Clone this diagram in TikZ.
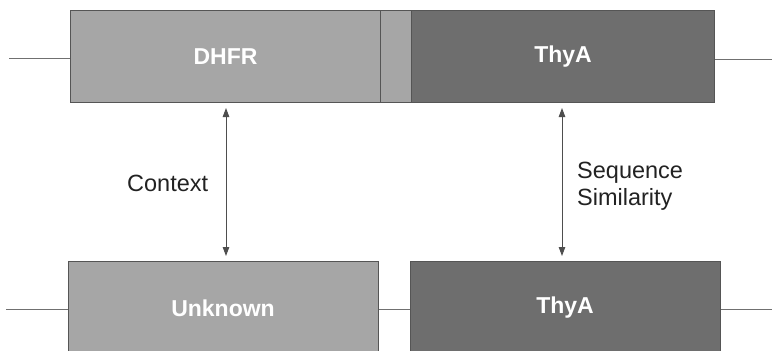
\documentclass[tikz,border=0pt]{standalone}
\usepackage{fontspec}
\setmainfont{Liberation Sans}
\usetikzlibrary{arrows.meta}
\definecolor{domlight}{HTML}{A6A6A6}
\definecolor{domdark}{HTML}{6E6E6E}
\definecolor{edgegrey}{HTML}{555555}
\definecolor{linkgrey}{HTML}{707070}
\definecolor{labelgrey}{HTML}{222222}
\tikzset{
  genebox/.style={draw=edgegrey, line width=1pt, inner sep=0pt, anchor=north west,
    font=\fontsize{23}{24}\selectfont\bfseries, text=white},
  lightdom/.style={genebox, fill=domlight},
  darkdom/.style={genebox, fill=domdark},
  genename/.style={font=\fontsize{23}{24}\selectfont\bfseries, text=white},
  chain/.style={draw=linkgrey, line width=1pt},
  relation/.style={draw=labelgrey!80, line width=0.9pt,
    {Triangle[length=9pt,width=6.5pt]}-{Triangle[length=9pt,width=6.5pt]}},
  tag/.style={text=labelgrey, font=\fontsize{23.5}{25}\selectfont, align=left, inner sep=0pt}
}
\begin{document}
\begin{tikzpicture}[x=1pt, y=-1pt]
  \useasboundingbox (0,0) rectangle (772,351);
  \fill[white] (0,0) rectangle (772,351);

  % upper gene pair: DHFR and ThyA joined by a short linker
  \node[lightdom, minimum width=310pt, minimum height=92pt] (dhfr) at (70,10) {DHFR};
  \node[lightdom, minimum width=31pt, minimum height=92pt] (linker) at (380,10) {};
  \node[darkdom, minimum width=303pt, minimum height=92pt] (thyaTop) at (411,10) {ThyA};

  % lower gene pair: unknown gene and ThyA
  \node[lightdom, minimum width=310pt, minimum height=96pt] (unknown) at (68,261) {};
  \node[darkdom, minimum width=310pt, minimum height=96pt] (thyaBot) at (410,261) {};
  \node[genename] (unknownLbl) at (223,308) {Unknown};
  \node[genename] (thyaBotLbl) at (565,308) {ThyA};

  % chromosome strands
  \coordinate (tl) at (9,58);
  \coordinate (tr) at (772,59);
  \coordinate (bl) at (6,309);
  \coordinate (br) at (772,309);
  \draw[chain] (tl) -- (dhfr.west |- tl);
  \draw[chain] (thyaTop.east |- tr) -- (tr);
  \draw[chain] (bl) -- (unknown.west |- bl);
  \draw[chain] (unknown.east |- bl) -- (thyaBot.west |- bl);
  \draw[chain] (thyaBot.east |- br) -- (br);

  % relations between the two pairs
  \coordinate (ctxTop) at (226,108);
  \coordinate (ctxBot) at (226,256);
  \coordinate (simTop) at (562,108);
  \coordinate (simBot) at (562,256);
  \draw[relation] (ctxTop) -- (ctxBot);
  \draw[relation] (simTop) -- (simBot);
  \node[tag, anchor=base west] (ctx) at (127,191) {Context};
  \node[tag, anchor=base west] (seq) at (577,178) {Sequence};
  \node[tag, anchor=base west] (sim) at (577,205) {Similarity};
\end{tikzpicture}
\end{document}
